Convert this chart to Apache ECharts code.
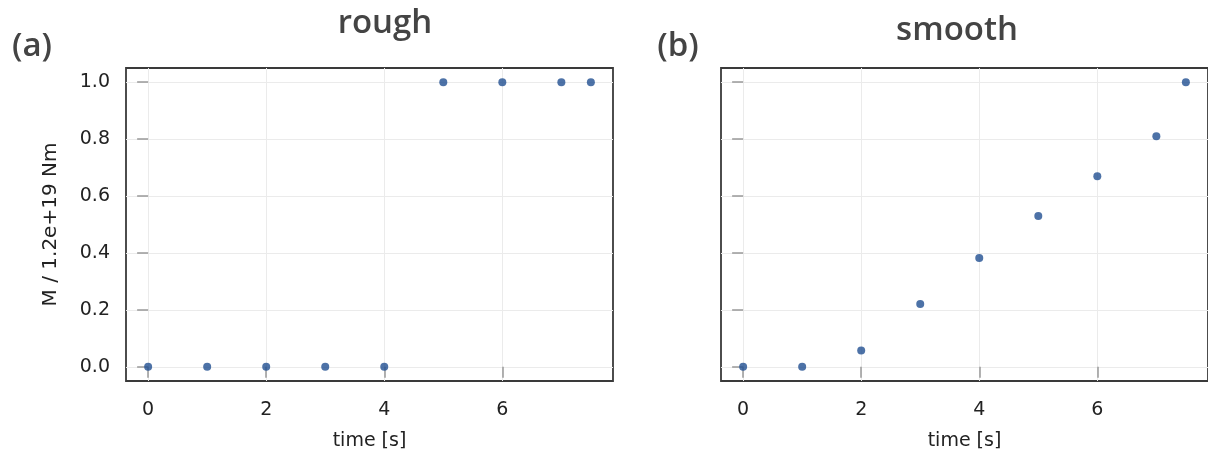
<!DOCTYPE html>
<html>
<head>
<meta charset="utf-8">
<script src="https://cdn.jsdelivr.net/npm/echarts@6/dist/echarts.min.js"></script>
<style>
html,body{margin:0;padding:0;background:#fff;}
#chart{width:1208px;height:457px;}
</style>
</head>
<body>
<div id="chart"></div>
<script>
const timeRough = [0, 1, 2, 3, 4, 5, 6, 7, 7.5];
const valuesRough = [0, 0, 0, 0, 0, 1, 1, 1, 1];
const timeSmooth = [0, 1, 2, 3, 4, 5, 6, 7, 7.5];
const valuesSmooth = [0, 0, 0.057, 0.221, 0.382, 0.53, 0.67, 0.81, 1.0];
const xTicks = [0, 2, 4, 6];
const yTicks = [0, 0.2, 0.4, 0.6, 0.8, 1.0];
const panelTitles = ['rough', 'smooth'];
const panelLabels = ['(a)', '(b)'];
const xName = 'time [s]';
const yName = 'M / 1.2e+19 Nm';

const chart = echarts.init(document.getElementById('chart'), null, {renderer: 'canvas'});
const tickFont = {fontFamily: 'DejaVu Sans', fontSize: 19, color: '#222'};
const pointColor = '#214f91';

function xAxis(gi) {
  return {
    type: 'value', gridIndex: gi, min: -0.375, max: 7.875,
    name: xName, nameLocation: 'middle', nameGap: 51,
    nameTextStyle: {fontFamily: 'DejaVu Sans', fontSize: 19, color: '#222'},
    axisLine: {show: false},
    axisTick: {show: true, inside: false, length: 11, lineStyle: {color: '#999', width: 1.5}, customValues: xTicks},
    axisLabel: Object.assign({margin: 20, customValues: xTicks, formatter: v => String(v)}, tickFont),
    splitLine: {show: true, lineStyle: {color: '#ebebeb', width: 1}}
  };
}
function yAxis(gi, withLabels) {
  return {
    type: 'value', gridIndex: gi, min: -0.05, max: 1.05,
    name: withLabels ? yName : '', nameLocation: 'middle', nameGap: 65,
    nameTextStyle: {fontFamily: 'DejaVu Sans', fontSize: 20, color: '#222'},
    axisLine: {show: false},
    axisTick: {show: true, inside: false, length: 11, lineStyle: {color: '#999', width: 1.5}, customValues: yTicks},
    axisLabel: Object.assign({show: withLabels, margin: 16, customValues: yTicks, formatter: v => v.toFixed(1)}, tickFont),
    splitLine: {show: true, lineStyle: {color: '#ebebeb', width: 1}}
  };
}

const titleFont = '600 33px "Open Sans"';
const option = {
  backgroundColor: '#fff',
  animation: false,
  grid: [
    {left: 126, top: 68, width: 487, height: 313, show: true, borderColor: '#3a3a3a', borderWidth: 1.8, containLabel: false},
    {left: 721, top: 68, width: 488, height: 313, show: true, borderColor: '#3a3a3a', borderWidth: 1.8, containLabel: false}
  ],
  xAxis: [xAxis(0), xAxis(1)],
  yAxis: [yAxis(0, true), yAxis(1, false)],
  series: [
    {type: 'scatter', xAxisIndex: 0, yAxisIndex: 0, symbolSize: 8,
     itemStyle: {color: pointColor}, data: timeRough.map((t, i) => [t, valuesRough[i]])},
    {type: 'scatter', xAxisIndex: 1, yAxisIndex: 1, symbolSize: 8,
     itemStyle: {color: pointColor}, data: timeSmooth.map((t, i) => [t, valuesSmooth[i]])}
  ],
  graphic: [
    {type: 'text', x: 385, y: 24, style: {text: panelTitles[0], font: titleFont, fill: '#444', align: 'center', verticalAlign: 'middle'}},
    {type: 'text', x: 957, y: 31, style: {text: panelTitles[1], font: titleFont, fill: '#444', align: 'center', verticalAlign: 'middle'}},
    {type: 'text', x: 32, y: 47, style: {text: panelLabels[0], font: titleFont, fill: '#444', align: 'center', verticalAlign: 'middle'}},
    {type: 'text', x: 678, y: 47, style: {text: panelLabels[1], font: titleFont, fill: '#444', align: 'center', verticalAlign: 'middle'}}
  ]
};
chart.setOption(option);
</script>
</body>
</html>
